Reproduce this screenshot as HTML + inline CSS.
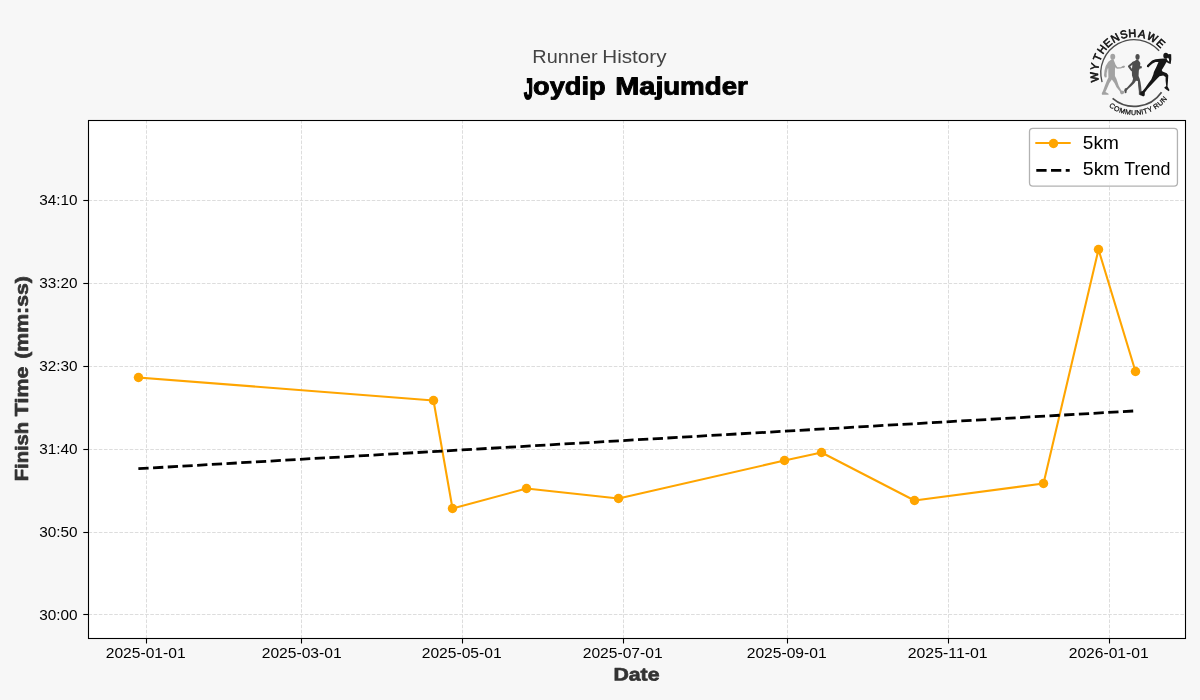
<!DOCTYPE html>
<html lang="en"><head><meta charset="utf-8"><title>Runner History - Joydip Majumder</title>
<style>
html,body{margin:0;padding:0;background:#f7f7f7;}
body{width:1200px;height:700px;overflow:hidden;font-family:"Liberation Sans", sans-serif;}
svg{display:block;will-change:transform;}
svg text{font-family:"Liberation Sans", sans-serif;}
</style></head><body>
<svg width="1200" height="700" viewBox="0 0 1200 700">
<rect x="0" y="0" width="1200" height="700" fill="#f7f7f7"/>
<rect x="88.50" y="120.50" width="1097.00" height="518.00" fill="#ffffff"/>
<g stroke="#dcdcdc" stroke-width="0.97" stroke-dasharray="3.6 1.55" fill="none">
<line x1="146.50" y1="638.50" x2="146.50" y2="120.50"/>
<line x1="301.50" y1="638.50" x2="301.50" y2="120.50"/>
<line x1="462.50" y1="638.50" x2="462.50" y2="120.50"/>
<line x1="623.50" y1="638.50" x2="623.50" y2="120.50"/>
<line x1="787.50" y1="638.50" x2="787.50" y2="120.50"/>
<line x1="948.50" y1="638.50" x2="948.50" y2="120.50"/>
<line x1="1109.50" y1="638.50" x2="1109.50" y2="120.50"/>
<line x1="88.50" y1="200.50" x2="1185.50" y2="200.50"/>
<line x1="88.50" y1="283.50" x2="1185.50" y2="283.50"/>
<line x1="88.50" y1="366.50" x2="1185.50" y2="366.50"/>
<line x1="88.50" y1="449.50" x2="1185.50" y2="449.50"/>
<line x1="88.50" y1="532.50" x2="1185.50" y2="532.50"/>
<line x1="88.50" y1="614.50" x2="1185.50" y2="614.50"/>
</g>
<polyline fill="none" stroke="#ffa500" stroke-width="2.08" stroke-linejoin="round" stroke-linecap="square" points="138.50,377.50 433.50,400.50 452.50,508.50 526.50,488.50 618.50,498.50 784.50,460.50 821.50,452.50 914.50,500.50 1043.50,483.50 1098.50,249.50 1135.50,371.50"/>
<g fill="#ffa500">
<circle cx="138.50" cy="377.50" r="4.75"/>
<circle cx="433.50" cy="400.50" r="4.75"/>
<circle cx="452.50" cy="508.50" r="4.75"/>
<circle cx="526.50" cy="488.50" r="4.75"/>
<circle cx="618.50" cy="498.50" r="4.75"/>
<circle cx="784.50" cy="460.50" r="4.75"/>
<circle cx="821.50" cy="452.50" r="4.75"/>
<circle cx="914.50" cy="500.50" r="4.75"/>
<circle cx="1043.50" cy="483.50" r="4.75"/>
<circle cx="1098.50" cy="249.50" r="4.75"/>
<circle cx="1135.50" cy="371.50" r="4.75"/>
</g>
<line x1="138.36" y1="468.70" x2="1135.60" y2="410.85" stroke="#000" stroke-width="2.78" stroke-dasharray="10.28 4.44"/>
<rect x="88.50" y="120.50" width="1097.00" height="518.00" fill="none" stroke="#000" stroke-width="1.1"/>
<g stroke="#000" stroke-width="1.1">
<line x1="146.50" y1="638.50" x2="146.50" y2="643.50"/>
<line x1="301.50" y1="638.50" x2="301.50" y2="643.50"/>
<line x1="462.50" y1="638.50" x2="462.50" y2="643.50"/>
<line x1="623.50" y1="638.50" x2="623.50" y2="643.50"/>
<line x1="787.50" y1="638.50" x2="787.50" y2="643.50"/>
<line x1="948.50" y1="638.50" x2="948.50" y2="643.50"/>
<line x1="1109.50" y1="638.50" x2="1109.50" y2="643.50"/>
<line x1="83.30" y1="200.50" x2="88.50" y2="200.50"/>
<line x1="83.30" y1="283.50" x2="88.50" y2="283.50"/>
<line x1="83.30" y1="366.50" x2="88.50" y2="366.50"/>
<line x1="83.30" y1="449.50" x2="88.50" y2="449.50"/>
<line x1="83.30" y1="532.50" x2="88.50" y2="532.50"/>
<line x1="83.30" y1="614.50" x2="88.50" y2="614.50"/>
</g>
<g>
<text x="105.71" y="658.00" font-size="14.70" fill="#000" textLength="79.95" lengthAdjust="spacingAndGlyphs">2025-01-01</text>
<text x="261.71" y="658.00" font-size="14.70" fill="#000" textLength="79.95" lengthAdjust="spacingAndGlyphs">2025-03-01</text>
<text x="421.71" y="658.00" font-size="14.70" fill="#000" textLength="79.95" lengthAdjust="spacingAndGlyphs">2025-05-01</text>
<text x="582.71" y="658.00" font-size="14.70" fill="#000" textLength="79.95" lengthAdjust="spacingAndGlyphs">2025-07-01</text>
<text x="746.71" y="658.00" font-size="14.70" fill="#000" textLength="79.95" lengthAdjust="spacingAndGlyphs">2025-09-01</text>
<text x="907.71" y="658.00" font-size="14.70" fill="#000" textLength="79.95" lengthAdjust="spacingAndGlyphs">2025-11-01</text>
<text x="1068.71" y="658.00" font-size="14.70" fill="#000" textLength="79.95" lengthAdjust="spacingAndGlyphs">2026-01-01</text>
<text x="39.22" y="205.00" font-size="14.70" fill="#000" textLength="38.38" lengthAdjust="spacingAndGlyphs">34:10</text>
<text x="39.22" y="288.00" font-size="14.70" fill="#000" textLength="38.38" lengthAdjust="spacingAndGlyphs">33:20</text>
<text x="39.22" y="371.00" font-size="14.70" fill="#000" textLength="38.38" lengthAdjust="spacingAndGlyphs">32:30</text>
<text x="39.22" y="454.00" font-size="14.70" fill="#000" textLength="38.38" lengthAdjust="spacingAndGlyphs">31:40</text>
<text x="39.22" y="537.00" font-size="14.70" fill="#000" textLength="38.38" lengthAdjust="spacingAndGlyphs">30:50</text>
<text x="39.22" y="620.00" font-size="14.70" fill="#000" textLength="38.38" lengthAdjust="spacingAndGlyphs">30:00</text>
</g>
<text transform="matrix(1 0.0005 0 1 613.40 680.57)" font-size="18.20" font-weight="bold" fill="#333" stroke="#333" stroke-width="0.65" stroke-linejoin="round" textLength="46.10" lengthAdjust="spacingAndGlyphs">Date</text>
<text transform="translate(27.78,480.30) rotate(-90)" x="-1.03" y="0" font-size="18.20" font-weight="bold" fill="#333" stroke="#333" stroke-width="0.65" stroke-linejoin="round" textLength="59.45" lengthAdjust="spacingAndGlyphs">Finish</text>
<text transform="translate(27.78,416.30) rotate(-90)" x="0.09" y="0" font-size="18.20" font-weight="bold" fill="#333" stroke="#333" stroke-width="0.65" stroke-linejoin="round" textLength="49.51" lengthAdjust="spacingAndGlyphs">Time</text>
<text transform="translate(27.78,358.00) rotate(-90)" x="-0.73" y="0" font-size="18.20" font-weight="bold" fill="#333" stroke="#333" stroke-width="0.65" stroke-linejoin="round" textLength="82.56" lengthAdjust="spacingAndGlyphs">(mm:ss)</text>
<text x="532.37" y="62.60" font-size="17.50" fill="#444" textLength="65.21" lengthAdjust="spacingAndGlyphs">Runner</text>
<text x="602.31" y="62.60" font-size="17.50" fill="#444" textLength="64.23" lengthAdjust="spacingAndGlyphs">History</text>
<text transform="matrix(0.6682 0 0 1.2654 524.01 98.66)" font-size="23.90" font-weight="bold" fill="#000" stroke="#000" stroke-width="1.50" stroke-linejoin="miter">J</text>
<text transform="matrix(1 0.0005 0 1 533.09 94.45)" font-size="24.80" font-weight="bold" fill="#000" stroke="#000" stroke-width="0.90" stroke-linejoin="round" textLength="72.58" lengthAdjust="spacingAndGlyphs">oydip</text>
<text transform="matrix(1 0.0005 0 1 615.21 94.45)" font-size="24.80" font-weight="bold" fill="#000" stroke="#000" stroke-width="0.90" stroke-linejoin="round" textLength="48.27" lengthAdjust="spacingAndGlyphs">Maj</text>
<text transform="matrix(1 0.0005 0 1 663.13 94.45)" font-size="24.80" font-weight="bold" fill="#000" stroke="#000" stroke-width="0.90" stroke-linejoin="round" textLength="84.74" lengthAdjust="spacingAndGlyphs">umder</text>
<rect x="1029.5" y="128.45" width="147.95" height="57.6" rx="3.4" ry="3.4" fill="#ffffff" fill-opacity="0.8" stroke="#b2b2b2" stroke-width="1.3"/>
<line x1="1035.3" y1="143.0" x2="1070.7" y2="143.0" stroke="#ffa500" stroke-width="2.08"/>
<circle cx="1053.5" cy="143.5" r="4.75" fill="#ffa500"/>
<line x1="1036.3" y1="170.3" x2="1069.7" y2="170.3" stroke="#000" stroke-width="2.78" stroke-dasharray="10.28 4.44"/>
<text x="1082.84" y="149.00" font-size="17.60" fill="#000" textLength="36.02" lengthAdjust="spacingAndGlyphs">5km</text>
<text x="1082.82" y="175.00" font-size="17.60" fill="#000" textLength="36.76" lengthAdjust="spacingAndGlyphs">5km</text>
<text x="1124.30" y="175.00" font-size="17.60" fill="#000" textLength="46.13" lengthAdjust="spacingAndGlyphs">Trend</text>
<g id="logo">
<defs>
<path id="arcTop" d="M1102.21 90.37 A36.40 36.40 0 0 1 1166.19 55.63"/>
<path id="arcBot" d="M1096.82 92.37 A42.10 42.10 0 0 0 1175.29 82.18"/>
</defs>
<path d="M1102.06 82.09 A33.40 33.40 0 0 1 1159.14 50.78" fill="none" stroke="#4c4c4c" stroke-width="1.35"/>
<path d="M1112.60 98.47 A33.40 33.40 0 0 0 1161.56 92.16" fill="none" stroke="#4c4c4c" stroke-width="1.7"/>
<g font-size="11.1" fill="#141414" stroke="#141414" stroke-width="0.65" stroke-linejoin="round" text-anchor="middle">
<text transform="translate(1098.28,76.59) rotate(264.3) scale(0.98,1)">W</text>
<text transform="translate(1098.57,67.17) rotate(279.3) scale(0.98,1)">Y</text>
<text transform="translate(1100.92,59.01) rotate(292.8) scale(0.98,1)">T</text>
<text transform="translate(1105.11,51.63) rotate(306.3) scale(0.98,1)">H</text>
<text transform="translate(1110.28,45.96) rotate(318.5) scale(0.98,1)">E</text>
<text transform="translate(1116.86,41.34) rotate(331.3) scale(0.98,1)">N</text>
<text transform="translate(1124.80,38.15) rotate(344.9) scale(0.98,1)">S</text>
<text transform="translate(1132.44,36.94) rotate(357.2) scale(0.98,1)">H</text>
<text transform="translate(1141.40,37.62) rotate(371.5) scale(0.98,1)">A</text>
<text transform="translate(1150.59,40.83) rotate(387.0) scale(0.98,1)">W</text>
<text transform="translate(1158.26,46.09) rotate(401.8) scale(0.98,1)">E</text>
</g>
<text font-size="7.0" fill="#141414" stroke="#141414" stroke-width="0.28"><textPath href="#arcBot" startOffset="50%" text-anchor="middle" textLength="65.2" lengthAdjust="spacing">COMMUNITY RUN</textPath></text>
<g fill="#a2a2a2">
<ellipse cx="1112.74" cy="56.86" rx="2.47" ry="3.02"/>
<polygon points="1111.71,59.26 1108.29,61.79 1105.68,66.11 1104.51,70.57 1104.03,75.51 1104.86,77.57 1106.64,77.15 1106.64,73.31 1107.39,69.89 1108.29,67.97 1108.29,72.63 1108.42,77.43 1107.05,80.17 1104.86,85.66 1102.94,91.01 1101.77,93.34 1101.98,94.71 1108.70,94.71 1108.29,93.48 1105.41,92.10 1107.05,88.40 1109.38,83.05 1111.85,79.62 1114.46,83.05 1116.51,87.17 1119.81,91.14 1120.35,93.48 1121.86,94.44 1124.61,92.93 1123.78,91.01 1121.31,90.46 1118.71,85.66 1116.38,78.80 1114.94,76.06 1114.94,70.57 1115.21,67.28 1116.93,68.65 1120.63,68.38 1123.10,67.69 1124.88,66.87 1124.47,65.63 1122.69,66.05 1120.63,67.14 1117.34,67.14 1115.62,64.67 1114.53,61.93 1113.50,59.60"/>
<circle cx="1123.6" cy="66.8" r="1.15"/>
<line x1="1107.45" y1="68.6" x2="1107.2" y2="73.6" stroke="#dcdcdc" stroke-width="0.5"/>
</g>
<g fill="#4d4d4d">
<ellipse cx="1137.54" cy="56.86" rx="2.13" ry="2.95"/>
<polygon points="1136.24,59.46 1135.14,60.70 1132.26,62.07 1132.26,65.77 1131.85,70.57 1131.99,75.51 1133.09,78.80 1132.13,81.68 1129.52,84.70 1126.91,87.85 1124.86,88.40 1124.17,90.60 1125.13,93.34 1126.37,93.06 1126.78,90.46 1128.29,88.81 1131.44,86.07 1134.46,82.92 1135.97,80.72 1137.89,80.99 1138.16,85.66 1138.85,91.14 1138.85,94.57 1140.63,95.53 1143.92,95.53 1144.19,93.89 1141.59,91.97 1141.18,87.03 1140.49,82.23 1139.67,78.80 1138.57,76.06 1138.85,70.57 1139.81,68.38 1141.31,68.38 1142.00,67.01 1141.18,65.91 1140.08,66.18 1140.35,63.03 1139.39,61.38 1138.57,60.70 1138.57,59.46"/>
<polyline points="1133.22,62.75 1128.97,66.32 1131.71,70.30" fill="none" stroke="#4d4d4d" stroke-width="2.0" stroke-linejoin="round" stroke-linecap="round"/>
</g>
<g fill="#161616">
<ellipse cx="1165.83" cy="55.79" rx="2.52" ry="2.97"/>
<polygon points="1164.12,58.39 1160.27,58.84 1155.52,59.13 1152.10,60.62 1149.13,63.14 1147.05,65.22 1146.91,66.70 1148.24,67.44 1149.87,65.81 1152.55,63.44 1155.52,62.10 1158.48,61.95 1156.55,66.55 1153.88,71.90 1153.29,74.42 1151.36,79.17 1148.39,83.18 1145.12,88.08 1142.60,90.90 1140.37,91.79 1140.08,94.46 1143.20,96.39 1144.68,95.50 1144.83,92.38 1147.65,88.67 1152.10,84.07 1156.55,79.17 1159.52,76.20 1163.23,75.61 1165.61,77.09 1165.61,80.66 1166.20,86.00 1164.12,87.78 1166.20,89.56 1168.87,91.34 1169.47,90.01 1167.54,86.59 1167.98,80.66 1168.28,75.16 1166.80,73.23 1162.49,71.60 1161.75,70.12 1164.12,66.26 1166.50,62.10 1168.43,63.29 1170.66,64.03 1171.32,59.13 1171.18,54.23 1168.87,54.09 1167.54,54.83 1167.98,57.50 1169.02,59.13 1169.17,61.80 1167.39,60.17 1166.50,58.39"/>
</g>
</g>
</svg>
</body></html>
